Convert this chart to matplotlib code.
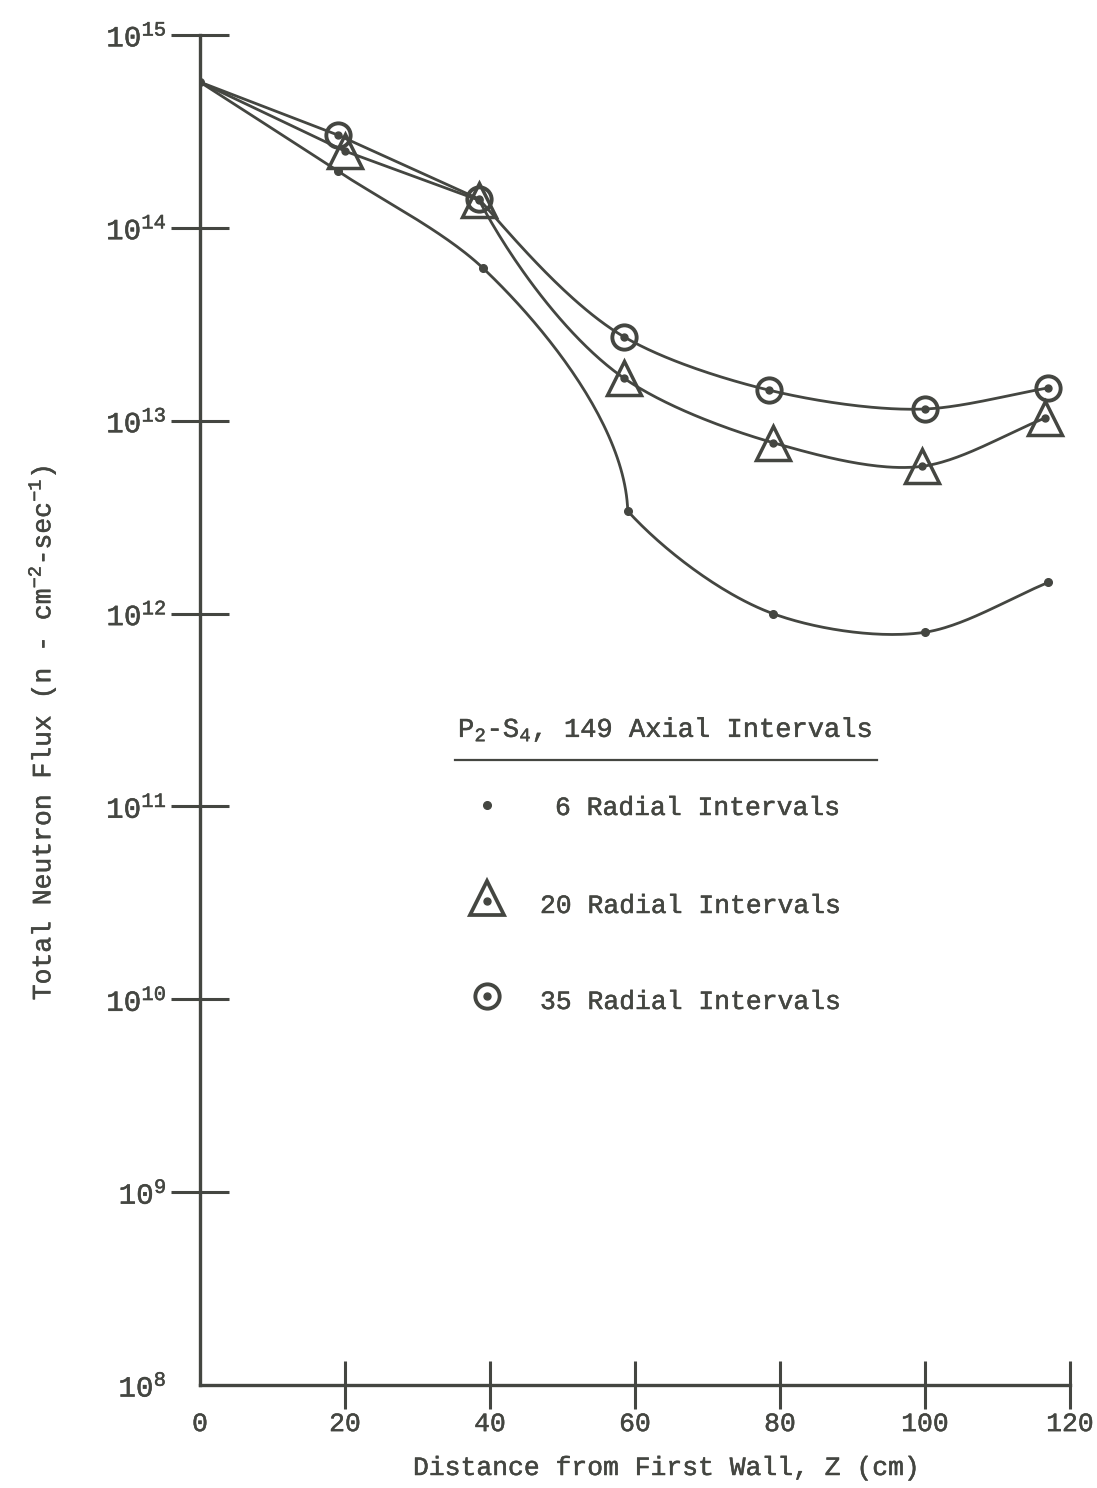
import numpy as np
import matplotlib.pyplot as plt
import matplotlib.patheffects as pe
from matplotlib.lines import Line2D
from matplotlib.ticker import NullLocator

plt.rcParams['font.family'] = 'Liberation Mono'
plt.rcParams['mathtext.fontset'] = 'custom'
plt.rcParams['mathtext.rm'] = 'Liberation Mono'
plt.rcParams['mathtext.it'] = 'Liberation Mono'
plt.rcParams['mathtext.bf'] = 'Liberation Mono'

# total flux vs. distance from first wall, P2-S4 with 149 axial intervals
z_6 = [0, 19, 39, 59, 79, 100, 117]
flux_6 = [5.7e14, 1.97e14, 6.2e13, 3.4e12, 1.0e12, 8.0e11, 1.45e12]

z_20 = [0, 20, 38.5, 58.5, 79, 99.6, 116.5]
flux_20 = [5.7e14, 2.5e14, 1.39e14, 1.66e13, 7.7e12, 5.8e12, 1.03e13]

z_35 = [0, 19, 38.5, 58.5, 78.5, 100, 117]
flux_35 = [5.7e14, 3.03e14, 1.41e14, 2.72e13, 1.44e13, 1.15e13, 1.48e13]

x_ticks = [0, 20, 40, 60, 80, 100, 120]
y_exps = [8, 9, 10, 11, 12, 13, 14, 15]

ink = '#444641'
W, H = 1097, 1488
# typewriter text is a little heavier than the regular face
heavy = [pe.withStroke(linewidth=0.35, foreground=ink)]

# scale factors so the spline is smooth on the page, not in data units
SX = 870 / 120.0
SY = 1350 / 7.0


def unit(v):
    v = np.asarray(v, float)
    return v / np.linalg.norm(v)


def hermite(z, f, n=50, start_dir=None, end_dir=None, tension=0.9):
    P = np.column_stack([np.asarray(z, float) * SX, np.log10(f) * SY])
    chords = P[1:] - P[:-1]
    L = np.linalg.norm(chords, axis=1) * tension
    D = np.zeros_like(P)
    # Bessel-type tangents: the shorter neighbouring chord weighs more
    for i in range(1, len(P) - 1):
        D[i] = unit(chords[i - 1] / L[i - 1] ** 2 + chords[i] / L[i] ** 2)
    D[0] = unit(chords[0]) if start_dir is None else unit(start_dir)
    D[-1] = unit(chords[-1]) if end_dir is None else unit(end_dir)
    t = np.linspace(0, 1, n)[:, None]
    h00 = 2 * t**3 - 3 * t**2 + 1
    h10 = t**3 - 2 * t**2 + t
    h01 = -2 * t**3 + 3 * t**2
    h11 = t**3 - t**2
    segs = []
    for i in range(len(P) - 1):
        segs.append(h00 * P[i] + h10 * D[i] * L[i] + h01 * P[i + 1] + h11 * D[i + 1] * L[i])
    C = np.vstack(segs)
    return C[:, 0] / SX, 10 ** (C[:, 1] / SY)


fig = plt.figure(figsize=(W / 100, H / 100), dpi=100)
ax = fig.add_axes([200 / W, 1 - 1385 / H, 870 / W, 1350 / H])
ax.set_yscale('log')

lw = 2.0
# 6 radial: smooth down to a sharp knee at 59 cm, then a second smooth piece
cx, cy = hermite(z_6[:4], flux_6[:4], end_dir=(0.03, -1))
ax.plot(cx, cy, color=ink, lw=lw)
cx, cy = hermite(z_6[3:], flux_6[3:], start_dir=(1, -1.1))
ax.plot(cx, cy, color=ink, lw=lw)

# 20 and 35 radial: straight out to ~39 cm, then a smooth curve
ax.plot(z_20[:3], flux_20[:3], color=ink, lw=lw)
cx, cy = hermite(z_20[2:], flux_20[2:], start_dir=(1, -1.9))
ax.plot(cx, cy, color=ink, lw=lw)
ax.plot(z_35[:3], flux_35[:3], color=ink, lw=lw)
cx, cy = hermite(z_35[2:], flux_35[2:], start_dir=(1, -1.15))
ax.plot(cx, cy, color=ink, lw=lw)

ax.plot(z_6, flux_6, 'o', ms=5.5, color=ink, zorder=4)
ax.plot(z_20[1:], flux_20[1:], '^', ms=25, mfc='none', mec=ink, mew=2.5, zorder=4)
ax.plot(z_20[1:], flux_20[1:], 'o', ms=5, color=ink, zorder=4)
ax.plot(z_35[1:], flux_35[1:], 'o', ms=17.5, mfc='none', mec=ink, mew=2.8, zorder=4)
ax.plot(z_35[1:], flux_35[1:], 'o', ms=5, color=ink, zorder=4)

ax.set_xlim(0, 120)
ax.set_ylim(10.0**y_exps[0], 10.0**y_exps[-1])
ax.set_xticks(x_ticks)
ax.set_xticklabels([str(v) for v in x_ticks], fontsize=19, color=ink)
ax.set_yticks([10.0**e for e in y_exps])
ax.set_yticklabels([r'$\mathregular{10^{%d}}$' % e for e in y_exps], fontsize=21, color=ink)
ax.yaxis.set_minor_locator(NullLocator())
ax.tick_params(axis='x', direction='inout', length=35, width=2.2, color=ink, pad=2)
ax.tick_params(axis='y', direction='inout', length=42, width=2.2, color=ink, pad=3)
ax.xaxis.get_major_ticks()[0].tick1line.set_visible(False)
ax.yaxis.get_major_ticks()[0].tick1line.set_visible(False)
for lab in ax.get_xticklabels() + ax.get_yticklabels():
    lab.set_path_effects(heavy)

for s in ['top', 'right']:
    ax.spines[s].set_visible(False)
for s in ['left', 'bottom']:
    ax.spines[s].set_linewidth(2.4)
    ax.spines[s].set_color(ink)

fig.text(667 / W, 1 - 1468 / H, 'Distance from First Wall, Z (cm)',
         ha='center', va='center', fontsize=19, color=ink, path_effects=heavy)
fig.text(42 / W, 1 - 733 / H,
         r'Total Neutron Flux (n - cm$\mathregular{^{-2}}$-sec$\mathregular{^{-1}}$)',
         ha='center', va='center', rotation=90, fontsize=19, color=ink, path_effects=heavy)


# key
def fx(px):
    return px / W


def fy(py):
    return 1 - py / H


fig.text(fx(458), fy(737), r'P$\mathregular{_2}$-S$\mathregular{_4}$, 149 Axial Intervals',
         ha='left', va='baseline', fontsize=19.5, color=ink, path_effects=heavy)
fig.add_artist(Line2D([fx(455), fx(877)], [fy(760), fy(760)], color=ink, lw=1.6))

fig.add_artist(Line2D([fx(487)], [fy(805)], marker='o', ms=5.5, color=ink, ls='none'))
fig.text(fx(555), fy(808), '6 Radial Intervals', ha='left', va='center', fontsize=19,
         color=ink, path_effects=heavy)

fig.add_artist(Line2D([fx(487)], [fy(898)], marker='^', ms=25, mfc='none', mec=ink,
                      mew=2.7, ls='none'))
fig.add_artist(Line2D([fx(487)], [fy(901)], marker='o', ms=5, color=ink, ls='none'))
fig.text(fx(540), fy(906), '20 Radial Intervals', ha='left', va='center', fontsize=19,
         color=ink, path_effects=heavy)

fig.add_artist(Line2D([fx(487)], [fy(996)], marker='o', ms=17.5, mfc='none', mec=ink,
                      mew=2.8, ls='none'))
fig.add_artist(Line2D([fx(487)], [fy(996)], marker='o', ms=5, color=ink, ls='none'))
fig.text(fx(540), fy(1002), '35 Radial Intervals', ha='left', va='center', fontsize=19,
         color=ink, path_effects=heavy)

fig.savefig('out.png', dpi=100)
